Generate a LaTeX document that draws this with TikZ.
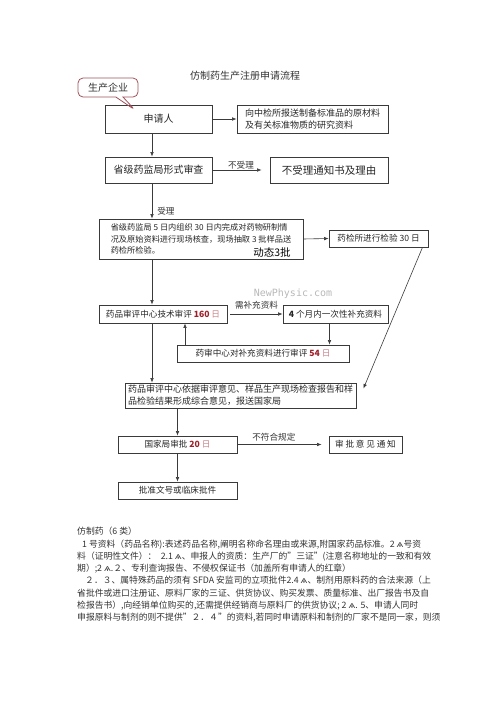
\documentclass[tikz,border=0pt]{standalone}
\usepackage{fontspec}
\setmainfont{Noto Sans CJK SC}
\newfontfamily\glyphfont{DejaVu Sans}
\newfontfamily\webfont{DejaVu Sans Mono}
\usetikzlibrary{arrows.meta,shapes.callouts}
\usepackage{xcolor}
\definecolor{boxline}{HTML}{3A3A3A}
\definecolor{daysred}{HTML}{9E1F2A}
\definecolor{dayspink}{HTML}{C98088}
\definecolor{calloutred}{HTML}{A0525A}
\newcommand{\glitch}{{\glyphfont ѧ}}
\newcommand{\daynum}[1]{{\bfseries\color{daysred}#1}~{\color{dayspink}日}}

\begin{document}
\begin{tikzpicture}[x=1pt,y=-1pt,font=\fontsize{8.6}{11}\selectfont,
    flowbox/.style={draw=boxline,line width=.9pt,inner sep=2pt,text=black!85},
    link/.style={draw=boxline,line width=.6pt,-{Latex[length=4.5pt,width=3.6pt]}},
    lab/.style={font=\fontsize{8.6}{10}\selectfont,inner sep=1pt,text=black!80}]
        \useasboundingbox (0,0) rectangle (496,702);
        \node[font=\fontsize{10}{12}\selectfont,text=black!80] (title) at (245,76) {仿制药生产注册申请流程};
        % flow boxes
        \node[flowbox,minimum width=107pt,minimum height=28pt,font=\fontsize{10}{12}\selectfont] (apply) at (158.5,119) {申请人};
        \node[flowbox,minimum width=151pt,minimum height=28pt,align=left,font=\fontsize{9}{11.5}\selectfont] (mat) at (312.5,119) {向中检所报送制备标准品的原材料\\及有关标准物质的研究资料};
        \node[flowbox,minimum width=107pt,minimum height=26pt,font=\fontsize{10}{12}\selectfont] (review) at (158.5,170) {省级药监局形式审查};
        \node[flowbox,minimum width=118pt,minimum height=26pt,font=\fontsize{10.5}{12}\selectfont] (reject) at (329,170) {不受理通知书及理由};
        \node[flowbox,minimum width=204pt,minimum height=40pt,align=left,font=\fontsize{8.2}{11.3}\selectfont] (onsite) at (201,239) {省级药监局 5 日内组织 30 日内完成对药物研制情\\况及原始资料进行现场核查，现场抽取 3 批样品送\\药检所检验。};
        \node[font=\fontsize{10.5}{12}\selectfont] (dyn) at (272,252) {动态3批};
        \node[flowbox,minimum width=99pt,minimum height=17pt] (test) at (378.5,238.5) {药检所进行检验 30 日};
        \node[flowbox,minimum width=128pt,minimum height=18pt] (tech) at (163,314) {药品审评中心技术审评 \daynum{160}};
        \node[flowbox,minimum width=105pt,minimum height=18pt] (supp) at (335.5,314) {\textbf{4} 个月内一次性补充资料};
        \node[flowbox,minimum width=172pt,minimum height=17pt] (resub) at (263,353.5) {药审中心对补充资料进行审评 \daynum{54}};
        \node[flowbox,minimum width=231pt,minimum height=25pt,inner ysep=1pt,align=left,font=\fontsize{9}{11.7}\selectfont] (synth) at (240.5,395.5) {药品审评中心依据审评意见、样品生产现场检查报告和样\\品检验结果形成综合意见，报送国家局};
        \node[flowbox,minimum width=119pt,minimum height=17pt] (state) at (177.5,444.5) {国家局审批 \daynum{20}};
        \node[flowbox,minimum width=73pt,minimum height=17pt] (notice) at (365.5,444.5) {审\hspace{1.8pt}批\hspace{1.8pt}意\hspace{1.8pt}见\hspace{1.8pt}通\hspace{1.8pt}知};
        \node[flowbox,minimum width=119pt,minimum height=17pt] (approve) at (177.5,490.5) {批准文号或临床批件};
        % callout
        \coordinate (tip) at (135,110);
        \node[rectangle callout,draw=calloutred,line width=.8pt,rounded corners=5pt,minimum width=60pt,minimum height=19pt,callout absolute pointer={(tip)},font=\fontsize{10}{12}\selectfont,text=black!80] (firm) at (108,87.5) {生产企业};
        \node[text=black!28,font=\webfont\fontsize{10}{12}\selectfont] (mark) at (293,294) {NewPhysic.com};
        % connectors
        \coordinate (spine) at (152,0);
        \coordinate (back) at (185,0);
        \draw[link] (apply.east) -- (mat.west);
        \draw[link] (apply.south -| spine) -- (review.north -| spine);
        \draw[link,shorten >=8pt] (review.east) -- node[above,lab] {不受理} (reject.west);
        \draw[link] (review.south -| spine) -- node[right=4pt,pos=.78,lab] {受理} (onsite.north -| spine);
        \draw[link] (onsite.east) -- (test.west);
        \draw[link] (onsite.south -| spine) -- (tech.north -| spine);
        \draw[link] ([xshift=-6pt]test.south east) -- ([xshift=7pt,yshift=7pt]synth.east);
        \draw[link] ([xshift=3pt]tech.east) -- node[above=4pt,lab] {需补充资料} (supp.west);
        \draw[link] ([xshift=-6pt]supp.south) -- ([xshift=-6pt]supp.south |- resub.north);
        \draw[link] (resub.north -| back) -- (tech.south -| back);
        \draw[link] (tech.south -| spine) -- (synth.north -| spine);
        \draw[link] (synth.south -| state.north) -- (state.north);
        \draw[link,shorten >=7pt] (state.east) -- node[above=2pt,pos=.4,lab] {不符合规定} (notice.west);
        \draw[link] (state.south) -- (approve.north);
        % notes below
        \node[anchor=north west,align=left,inner sep=0,text=black!80,font=\fontsize{8.8}{12.3}\selectfont] (notes) at (77,527) {仿制药（6 类）\\
        \hspace{5pt}1 号资料（药品名称):表述药品名称,阐明名称命名理由或来源,附国家药品标准。2 \glitch 号资\\
        料（证明性文件）：\enspace 2.1 \glitch、申报人的资质：生产厂的”三证”(注意名称地址的一致和有效\\
        期）;2 \glitch.２、专利查询报告、不侵权保证书（加盖所有申请人的红章）\\
        \hspace{8pt}２．３、属特殊药品的须有 SFDA 安监司的立项批件2.4 \glitch、制剂用原料药的合法来源（上\\
        省批件或进口注册证、原料厂家的三证、供货协议、购买发票、质量标准、出厂报告书及自\\
        检报告书）,向经销单位购买的,还需提供经销商与原料厂的供货协议; 2 \glitch. 5、申请人同时\\
        申报原料与制剂的则不提供”２．４”的资料,若同时申请原料和制剂的厂家不是同一家，则须};
      \end{tikzpicture}
\end{document}
